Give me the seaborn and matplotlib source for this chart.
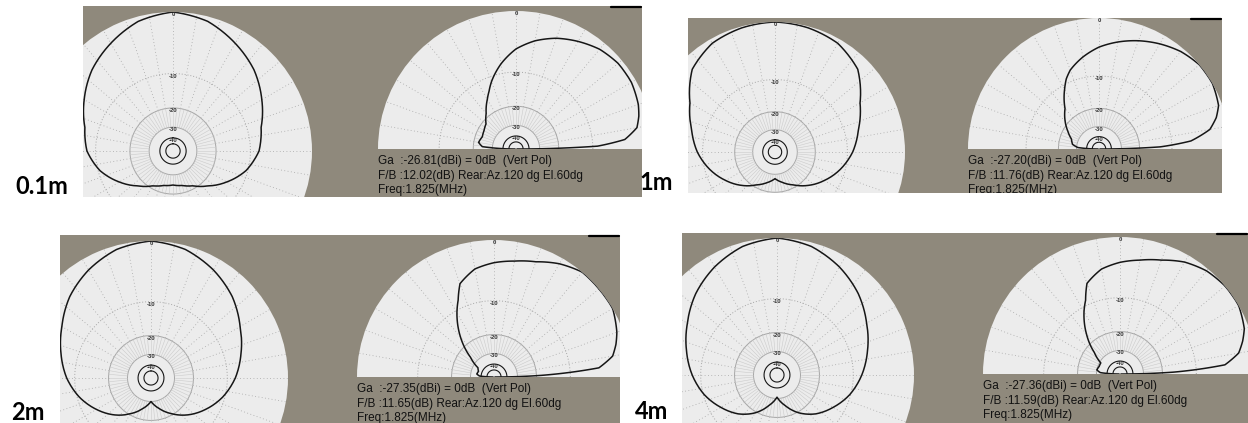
import numpy as np
import matplotlib
matplotlib.use("Agg")
import matplotlib.pyplot as plt
import seaborn as sns
from matplotlib.patches import Rectangle, PathPatch
from matplotlib.path import Path
from matplotlib.lines import Line2D

# ---- data ----
HEIGHTS = ["0.1m", "1m", "2m", "4m"]
GAIN_DBI = ["-26.81", "-27.20", "-27.35", "-27.36"]
FB_DB = ["12.02", "11.76", "11.65", "11.59"]
FREQ_MHZ = "1.825"

# azimuth cut: bearing (deg, clockwise from top) -> gain relative to max (dB)
AZ_DEG = [0, 15, 30, 45, 60, 75, 90, 105, 120, 135, 150, 165, 180,
          195, 210, 225, 240, 255, 270, 285, 300, 315, 330, 345, 360]
AZ_01 = [0, -0.6, -1.9, -3.3, -5.2, -7.2, -8.2, -10.4, -13.8, -17.7, -21.2, -23.2, -24.0,
         -23.2, -21.2, -17.7, -13.8, -10.4, -8.2, -7.2, -5.2, -3.3, -1.9, -0.6, 0]
AZ_1 = [0, -0.2, -0.6, -1.8, -4.8, -7.0, -8.8, -11.2, -14.1, -17.3, -21.0, -24.0, -27.0,
        -24.0, -21.0, -17.3, -14.1, -11.2, -8.8, -7.0, -4.8, -1.8, -0.6, -0.2, 0]
AZ_2 = [0, -0.5, -1.6, -3.0, -4.9, -6.6, -8.3, -10.5, -13.3, -16.5, -20.5, -25.0, -30.0,
        -25.0, -20.5, -16.5, -13.3, -10.5, -8.3, -6.6, -4.9, -3.0, -1.6, -0.5, 0]
AZ_4 = [0, -0.5, -1.6, -3.0, -4.8, -6.5, -8.2, -10.2, -12.8, -15.6, -19.5, -25.0, -31.0,
        -25.0, -19.5, -15.6, -12.8, -10.2, -8.2, -6.5, -4.8, -3.0, -1.6, -0.5, 0]

# elevation cut: angle (deg, counter-clockwise from right horizon) -> relative gain (dB)
EL_DEG = [0, 2, 5, 10, 15, 20, 30, 40, 50, 60, 70, 80, 90, 100, 110, 115, 120,
          130, 140, 150, 160, 170, 176, 180]
EL_01 = [-80, -9.0, -4.0, -2.0, -1.4, -1.0, -0.6, -0.6, -1.0, -1.8, -2.7, -3.9, -5.5, -8.0,
         -11.2, -13.2, -15.0, -18.6, -21.5, -22.5, -23.0, -22.0, -24.0, -80]
EL_1 = [-80, -13.0, -6.0, -2.6, -1.3, -0.5, 0, 0, -0.5, -1.3, -2.2, -3.2, -4.3, -5.8,
        -7.6, -9.0, -11.0, -15.5, -18.5, -22.0, -25.5, -27.0, -31.0, -80]
EL_2 = [-80, -18.0, -4.5, -2.2, -1.4, -0.8, 0, 0, 0, -0.8, -1.9, -2.6, -3.1, -3.8,
        -5.5, -8.2, -10.5, -16.5, -25.5, -34.0, -36.0, -35.0, -38.0, -80]
EL_4 = [-80, -16.0, -4.5, -2.2, -1.3, -0.6, 0, 0, -0.3, -1.0, -2.1, -2.9, -3.5, -4.3,
        -6.0, -8.9, -11.0, -16.5, -24.0, -31.0, -31.0, -30.0, -33.0, -80]

AZ_GAINS = [AZ_01, AZ_1, AZ_2, AZ_4]
EL_GAINS = [EL_01, EL_1, EL_2, EL_4]

# ---- layout, in pixels of the 1248x423 page (y grows downward) ----
W, H = 1248, 423
PANEL_BOX = [(83, 6, 642, 197), (688, 18, 1222, 193), (60, 235, 620, 423), (682, 233, 1248, 423)]
AZ_POS = [(173, 151, 139), (775, 152, 130), (151, 378, 137), (777, 375, 137)]   # cx, cy, radius
EL_POS = [(516, 149, 138), (1099, 149, 131), (494, 377, 137), (1120, 374, 137)]
LABEL_POS = [(15, 186), (639, 182), (11, 412), (635, 411)]

BG = "#8f897c"
DISC = "#ececec"
GRID = "#a6a6a6"
INK = "#161616"

sns.set_theme(style="white")
plt.rcParams["font.family"] = ["Liberation Sans", "DejaVu Sans"]


def arrl(db):
    # ARRL log scale: every 2 dB shrinks the radius by 0.89
    return 0.89 ** (-np.asarray(db, dtype=float) / 2.0)


def arrl_inv(r):
    r = np.clip(np.asarray(r, dtype=float), 1e-12, None)
    return -2.0 * np.log(r) / np.log(0.89)


def px_box(x0, y0, x1, y1):
    return [x0 / W, 1 - y1 / H, (x1 - x0) / W, (y1 - y0) / H]


fig = plt.figure(figsize=(W / 100, H / 100), dpi=100)
fig.patch.set_facecolor("white")


def polar_axes(cx, cy, r, half, z):
    if half:
        # matplotlib keeps a half-wedge inside a square box, centred half a radius up
        ax = fig.add_axes(px_box(cx - r, cy - 1.5 * r, cx + r, cy + 0.5 * r), projection="polar")
    else:
        ax = fig.add_axes(px_box(cx - r, cy - r, cx + r, cy + r), projection="polar")
    ax.set_zorder(z)
    ax.set_autoscale_on(False)
    ax.set_yscale("function", functions=(arrl, arrl_inv))
    ax.set_ylim(-100, 0)
    if half:
        ax.set_thetamin(0)
        ax.set_thetamax(180)
    else:
        ax.set_theta_zero_location("N")
        ax.set_theta_direction(-1)
    ax.set_facecolor(DISC)
    ax.set_xticks([])
    ax.set_yticks([])
    ax.grid(False)
    # polar draw() switches start/end spines back on for wedges, so blank them instead
    for s in ax.spines.values():
        s.set_edgecolor("none")
        s.set_linewidth(0)
        s.set_visible(False)

    # EZNEC-style grid
    span = np.pi if half else 2 * np.pi
    spokes = np.arange(10, 180, 10) if half else np.arange(0, 360, 10)
    short = np.arange(5, 180, 5) if half else np.arange(0, 360, 5)
    t = np.linspace(0, span, 361)
    ax.plot(t, np.full_like(t, -10), color=GRID, lw=0.7, ls=(0, (1, 2)))
    for db in (-20, -30):
        ax.plot(t, np.full_like(t, db), color=GRID, lw=0.7)
    for db in (-40, -50):
        ax.plot(t, np.full_like(t, db), color=INK, lw=0.8)
    for a in spokes:
        ax.plot([np.deg2rad(a)] * 2, [-20, 0], color=GRID, lw=0.6, ls=(0, (1, 3)))
    for a in short:
        ax.plot([np.deg2rad(a)] * 2, [-30, -20], color="#cbcbcb", lw=0.4)
    up = np.pi / 2 if half else 0.0
    for db in (0, -10, -20, -30, -40):
        ax.text(up, db, str(db), ha="center", va="top", fontsize=4.2, color="#333333",
                fontweight="bold")
    return ax


for i in range(4):
    x0, y0, x1, y1 = PANEL_BOX[i]
    row = i // 2
    fig.add_artist(Rectangle((x0 / W, 1 - y1 / H), (x1 - x0) / W, (y1 - y0) / H,
                             transform=fig.transFigure, facecolor=BG, edgecolor="none",
                             zorder=1 + 2 * row))
    fig.add_artist(Line2D([(x1 - 31) / W, (x1 - 1) / W], [1 - (y0 + 1) / H] * 2,
                          transform=fig.transFigure, color="black", lw=1.6, zorder=12))

    # azimuth plot
    ax = polar_axes(*AZ_POS[i], half=False, z=2 + 2 * row)
    sns.lineplot(x=np.deg2rad(AZ_DEG), y=AZ_GAINS[i], ax=ax, sort=False, estimator=None,
                 color=INK, lw=1.1)
    ax.lines[-1].get_path()._interpolation_steps = 20
    ax.set_xlabel("")
    ax.set_ylabel("")

    # elevation plot
    ax = polar_axes(*EL_POS[i], half=True, z=2 + 2 * row)
    sns.lineplot(x=np.deg2rad(EL_DEG), y=EL_GAINS[i], ax=ax, sort=False, estimator=None,
                 color=INK, lw=1.1)
    ax.lines[-1].get_path()._interpolation_steps = 20
    ax.set_xlabel("")
    ax.set_ylabel("")
    ax.annotate(f"Ga  :{GAIN_DBI[i]}(dBi) = 0dB  (Vert Pol)\n"
                f"F/B :{FB_DB[i]}(dB) Rear:Az.120 dg El.60dg\n"
                f"Freq:{FREQ_MHZ}(MHz)",
                xy=(0, 0.25), xycoords="axes fraction", xytext=(0, -6),
                textcoords="offset pixels", ha="left", va="top", fontsize=8.5,
                linespacing=1.3, color="#111111", annotation_clip=False)

# white page outside the four screenshots (crops the discs)
verts = [(0, 0), (1, 0), (1, 1), (0, 1), (0, 0)]
codes = [Path.MOVETO, Path.LINETO, Path.LINETO, Path.LINETO, Path.CLOSEPOLY]
for (x0, y0, x1, y1) in PANEL_BOX:
    fx0, fx1, fy0, fy1 = x0 / W, x1 / W, 1 - y1 / H, 1 - y0 / H
    verts += [(fx0, fy0), (fx0, fy1), (fx1, fy1), (fx1, fy0), (fx0, fy0)]
    codes += [Path.MOVETO, Path.LINETO, Path.LINETO, Path.LINETO, Path.CLOSEPOLY]
fig.add_artist(PathPatch(Path(verts, codes), transform=fig.transFigure,
                         facecolor="white", edgecolor="none", zorder=10))

for i in range(4):
    lx, ly = LABEL_POS[i]
    fig.text(lx / W, 1 - ly / H, HEIGHTS[i], ha="left", va="center", fontsize=17,
             fontweight="bold", family=["Lato", "DejaVu Sans"], color="black", zorder=13)

fig.savefig("out.png", dpi=100)
